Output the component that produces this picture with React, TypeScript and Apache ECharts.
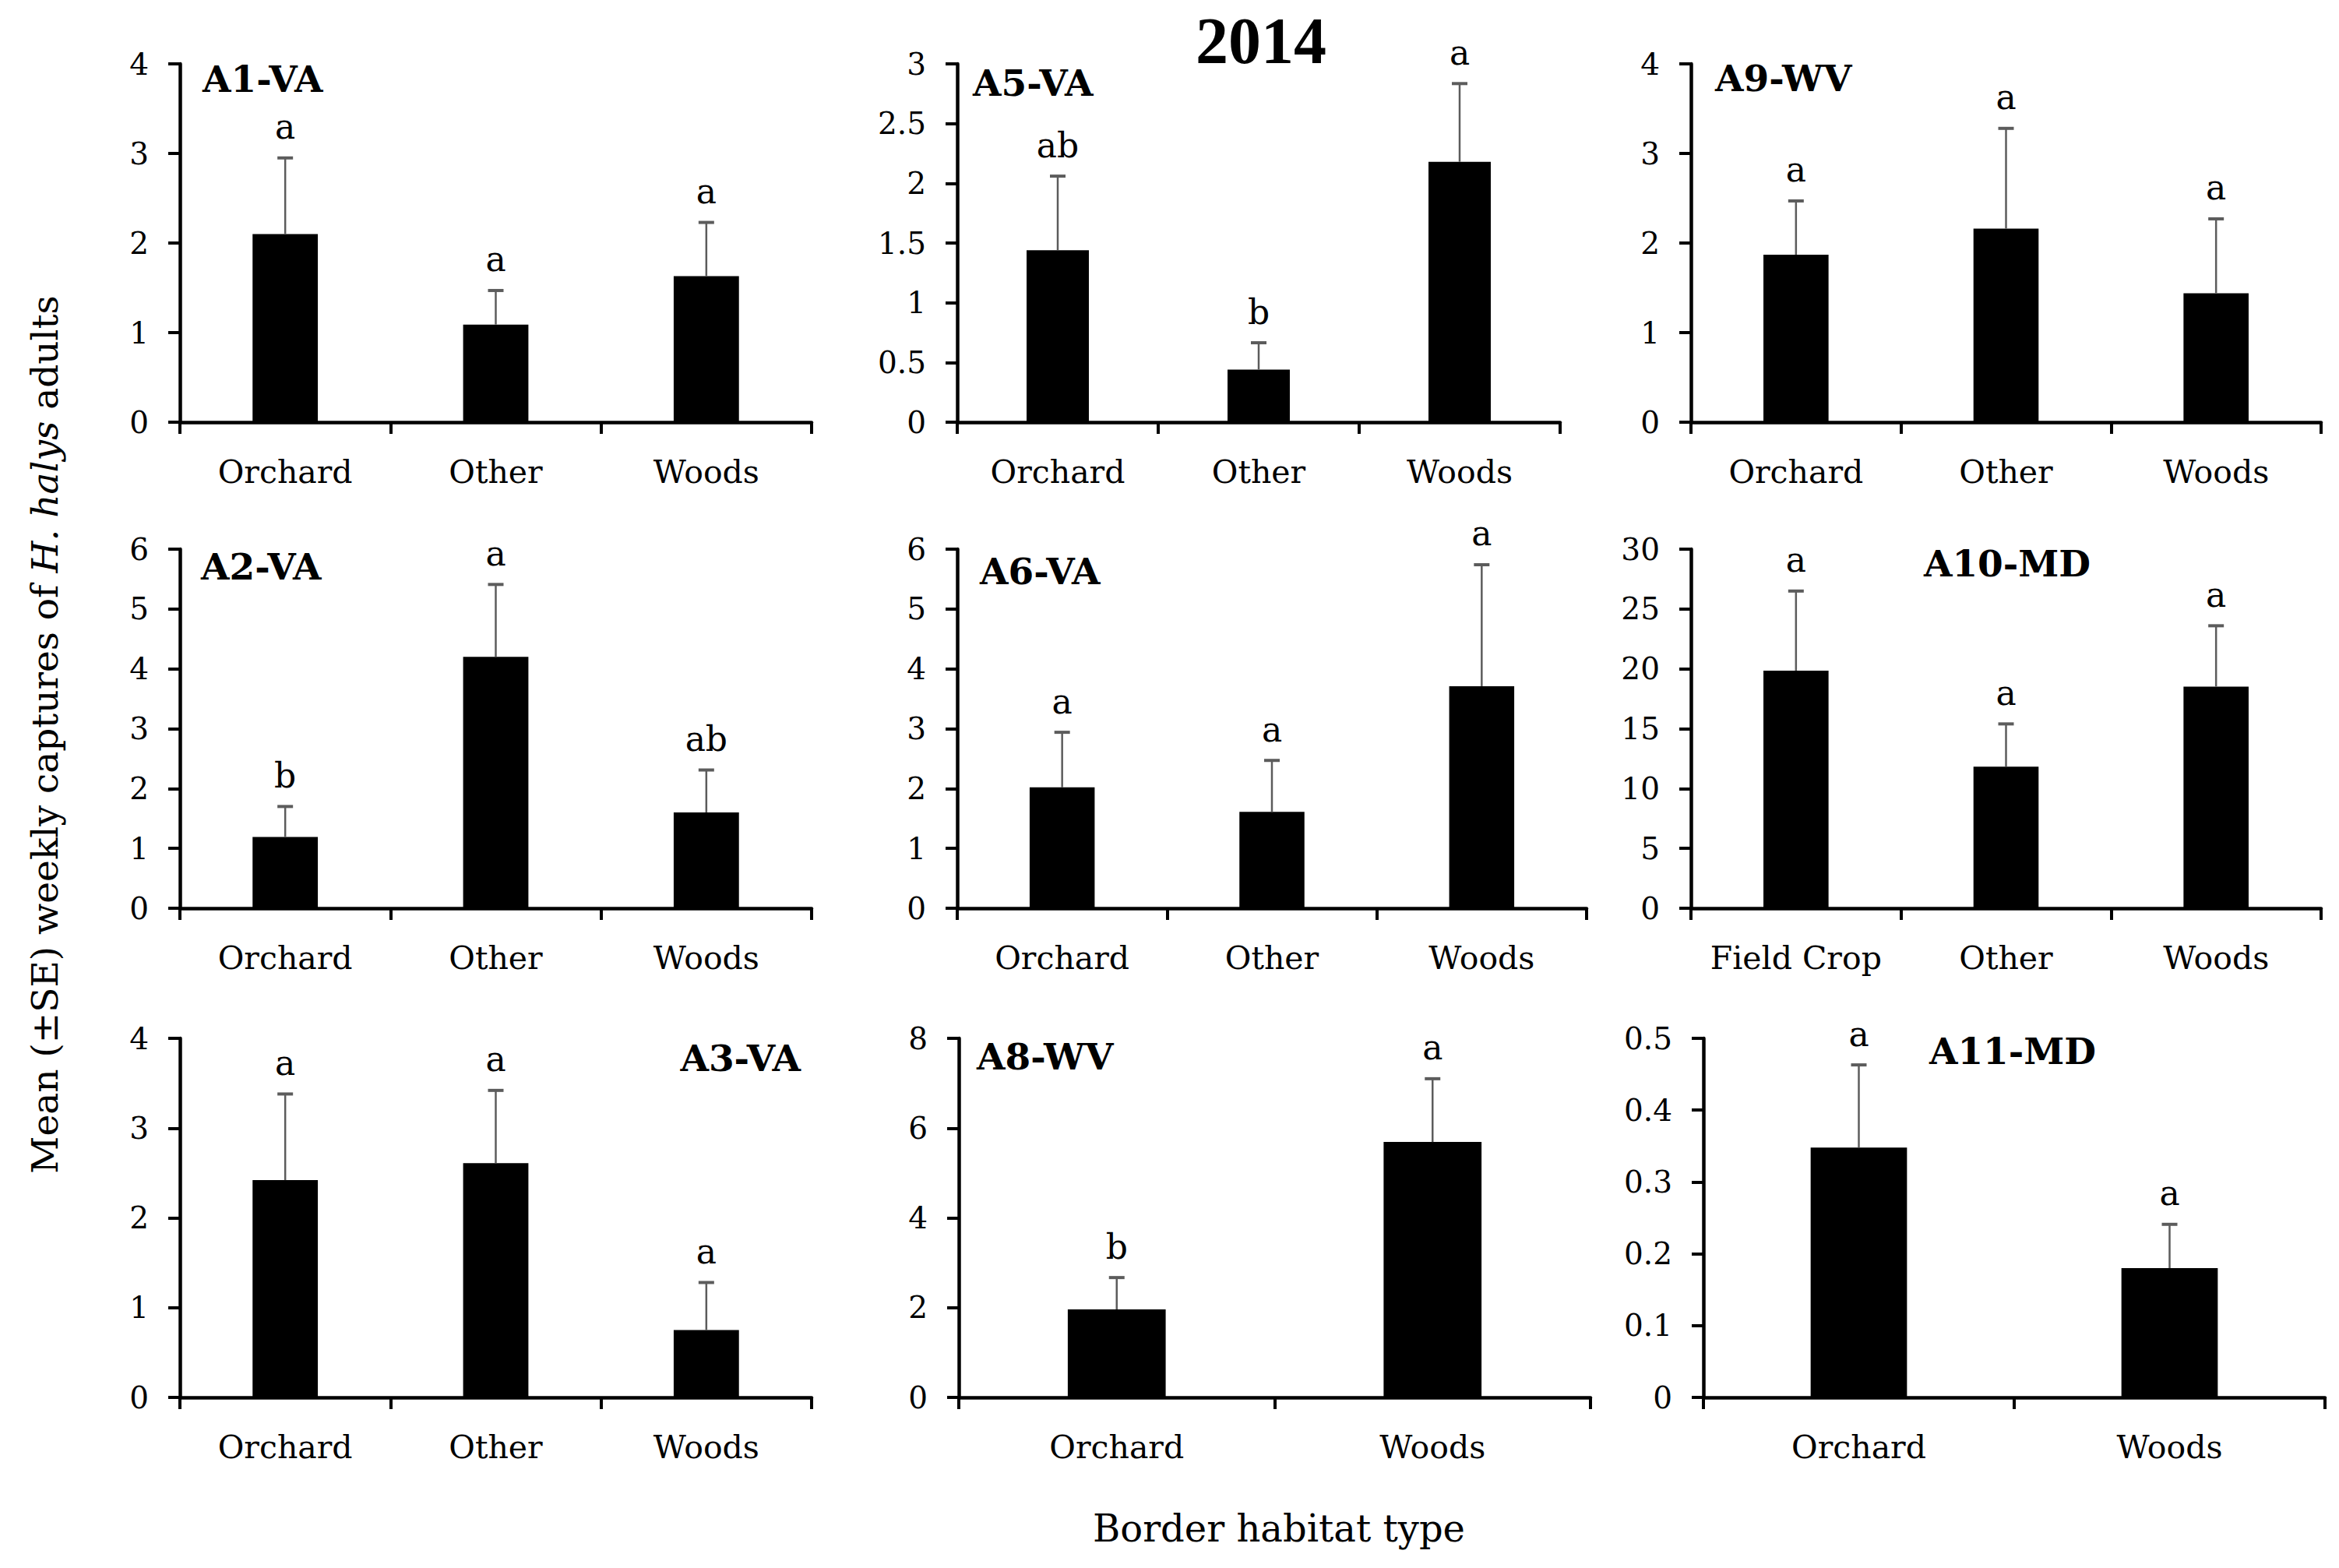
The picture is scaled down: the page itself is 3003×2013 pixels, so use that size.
import React, { useEffect, useRef } from 'react';
import * as echarts from 'echarts';

// ---------- data ----------
const catsA1 = ['Orchard', 'Other', 'Woods'];
const meanA1 = [2.1, 1.09, 1.63];
const seA1 = [0.85, 0.38, 0.6];
const letA1 = ['a', 'a', 'a'];

const catsA5 = ['Orchard', 'Other', 'Woods'];
const meanA5 = [1.44, 0.44, 2.18];
const seA5 = [0.62, 0.225, 0.655];
const letA5 = ['ab', 'b', 'a'];

const catsA9 = ['Orchard', 'Other', 'Woods'];
const meanA9 = [1.87, 2.16, 1.44];
const seA9 = [0.6, 1.12, 0.83];
const letA9 = ['a', 'a', 'a'];

const catsA2 = ['Orchard', 'Other', 'Woods'];
const meanA2 = [1.19, 4.2, 1.6];
const seA2 = [0.51, 1.21, 0.71];
const letA2 = ['b', 'a', 'ab'];

const catsA6 = ['Orchard', 'Other', 'Woods'];
const meanA6 = [2.02, 1.61, 3.71];
const seA6 = [0.92, 0.86, 2.03];
const letA6 = ['a', 'a', 'a'];

const catsA10 = ['Field Crop', 'Other', 'Woods'];
const meanA10 = [19.85, 11.83, 18.52];
const seA10 = [6.65, 3.57, 5.08];
const letA10 = ['a', 'a', 'a'];

const catsA3 = ['Orchard', 'Other', 'Woods'];
const meanA3 = [2.42, 2.61, 0.75];
const seA3 = [0.96, 0.81, 0.53];
const letA3 = ['a', 'a', 'a'];

const catsA8 = ['Orchard', 'Woods'];
const meanA8 = [1.96, 5.69];
const seA8 = [0.71, 1.41];
const letA8 = ['b', 'a'];

const catsA11 = ['Orchard', 'Woods'];
const meanA11 = [0.348, 0.18];
const seA11 = [0.115, 0.061];
const letA11 = ['a', 'a'];

const yMax = [4, 3, 4, 6, 6, 30, 4, 8, 0.5];
const yInterval = [1, 0.5, 1, 1, 1, 5, 1, 2, 0.1];
const panelNames = ['A1-VA', 'A5-VA', 'A9-WV', 'A2-VA', 'A6-VA', 'A10-MD', 'A3-VA', 'A8-WV', 'A11-MD'];
const mainTitle = '2014';
const xTitle = 'Border habitat type';

const panelData = [
  { cats: catsA1, mean: meanA1, se: seA1, letters: letA1 },
  { cats: catsA5, mean: meanA5, se: seA5, letters: letA5 },
  { cats: catsA9, mean: meanA9, se: seA9, letters: letA9 },
  { cats: catsA2, mean: meanA2, se: seA2, letters: letA2 },
  { cats: catsA6, mean: meanA6, se: seA6, letters: letA6 },
  { cats: catsA10, mean: meanA10, se: seA10, letters: letA10 },
  { cats: catsA3, mean: meanA3, se: seA3, letters: letA3 },
  { cats: catsA8, mean: meanA8, se: seA8, letters: letA8 },
  { cats: catsA11, mean: meanA11, se: seA11, letters: letA11 },
];

// ---------- layout ----------
const W = 3003;
const H = 2013;
const gridLayout = [
  [231, 82, 811, 460],
  [1229, 82, 774, 460],
  [2171, 82, 809, 460],
  [231, 705, 811, 461],
  [1229, 705, 808, 461],
  [2171, 705, 809, 461],
  [231, 1333, 811, 461],
  [1231, 1333, 811, 461],
  [2187, 1333, 798, 461],
];
const titleLayout: [number, number, string][] = [
  [260, 101, 'left'],
  [1249, 106, 'left'],
  [2202, 100, 'left'],
  [258, 727, 'left'],
  [1258, 733, 'left'],
  [2577, 723, 'center'],
  [1028, 1358, 'right'],
  [1254, 1356, 'left'],
  [2584, 1349, 'center'],
];

const FONT = '"DejaVu Serif", serif';
const ERR = '#5c5c5c';

function buildOption() {
  const grid: any[] = [];
  const xAxis: any[] = [];
  const yAxis: any[] = [];
  const series: any[] = [];
  const graphic: any[] = [];

  panelData.forEach((p, i) => {
    const [l, t, w, h] = gridLayout[i];
    grid.push({ left: l, top: t, width: w, height: h, containLabel: false });
    xAxis.push({
      type: 'category',
      gridIndex: i,
      data: p.cats,
      axisLine: { lineStyle: { color: '#000', width: 4.5 } },
      axisTick: { show: true, length: 15, lineStyle: { color: '#000', width: 4 } },
      axisLabel: { color: '#000', fontSize: 41, fontFamily: FONT, margin: 43, interval: 0 },
      splitLine: { show: false },
    });
    yAxis.push({
      type: 'value',
      gridIndex: i,
      min: 0,
      max: yMax[i],
      interval: yInterval[i],
      axisLine: { show: true, lineStyle: { color: '#000', width: 4.5 } },
      axisTick: { show: true, length: 15, lineStyle: { color: '#000', width: 4 } },
      axisLabel: { color: '#000', fontSize: 39, fontFamily: FONT, margin: 40 },
      splitLine: { show: false },
    });
    series.push({
      type: 'bar',
      xAxisIndex: i,
      yAxisIndex: i,
      data: p.mean,
      barWidth: '31%',
      itemStyle: { color: '#000' },
      z: 2,
    });
    const letters = p.letters;
    series.push({
      type: 'custom',
      xAxisIndex: i,
      yAxisIndex: i,
      z: 3,
      data: p.mean.map((m, k) => [k, m, p.se[k]]),
      encode: { x: 0, y: 1 },
      renderItem: (params: any, api: any) => {
        const idx = api.value(0);
        const m = api.value(1);
        const se = api.value(2);
        const base = api.coord([idx, m]);
        const top = api.coord([idx, m + se]);
        return {
          type: 'group',
          children: [
            {
              type: 'line',
              shape: { x1: base[0], y1: base[1], x2: top[0], y2: top[1] },
              style: { stroke: ERR, lineWidth: 2.5 },
            },
            {
              type: 'line',
              shape: { x1: top[0] - 10, y1: top[1], x2: top[0] + 10, y2: top[1] },
              style: { stroke: ERR, lineWidth: 4 },
            },
            {
              type: 'text',
              x: top[0],
              y: top[1] - 18,
              style: {
                text: letters[params.dataIndex],
                fontSize: 44,
                fontFamily: FONT,
                fill: '#000',
                textAlign: 'center',
                textVerticalAlign: 'bottom',
              },
            },
          ],
        };
      },
    });
    const [tx, ty, ta] = titleLayout[i];
    graphic.push({
      type: 'text',
      x: tx,
      y: ty,
      style: {
        text: panelNames[i],
        fontSize: 47,
        fontWeight: 'bold',
        fontFamily: FONT,
        fill: '#000',
        textAlign: ta,
        textVerticalAlign: 'middle',
      },
    });
  });

  graphic.push({
    type: 'text',
    x: 1619,
    y: 52,
    style: {
      text: mainTitle,
      fontSize: 84,
      fontWeight: 'bold',
      fontFamily: '"Liberation Serif", serif',
      fill: '#000',
      textAlign: 'center',
      textVerticalAlign: 'middle',
    },
  });
  graphic.push({
    type: 'text',
    x: 1642,
    y: 1962,
    style: {
      text: xTitle,
      fontSize: 48,
      fontFamily: FONT,
      fill: '#000',
      textAlign: 'center',
      textVerticalAlign: 'middle',
    },
  });
  graphic.push({
    type: 'text',
    x: 57,
    y: 943,
    rotation: Math.PI / 2,
    style: {
      text: '{n|Mean (±SE) weekly captures of }{i|H. halys}{n| adults}',
      rich: {
        n: { fontSize: 47, fontFamily: FONT, fill: '#000' },
        i: { fontSize: 47, fontFamily: FONT, fontStyle: 'italic', fill: '#000' },
      },
      fontSize: 47,
      fontFamily: FONT,
      fill: '#000',
      textAlign: 'center',
      textVerticalAlign: 'middle',
    },
  });

  return {
    animation: false,
    backgroundColor: '#fff',
    textStyle: { fontFamily: FONT },
    grid,
    xAxis,
    yAxis,
    series,
    graphic,
  };
}

export default function App() {
  const ref = useRef<HTMLDivElement>(null);
  useEffect(() => {
    document.body.style.margin = '0';
    const chart = echarts.init(ref.current!, null, { renderer: 'svg', width: W, height: H });
    chart.setOption(buildOption() as any);
    return () => chart.dispose();
  }, []);
  return <div ref={ref} style={{ width: W, height: H, background: '#fff' }} />;
}
